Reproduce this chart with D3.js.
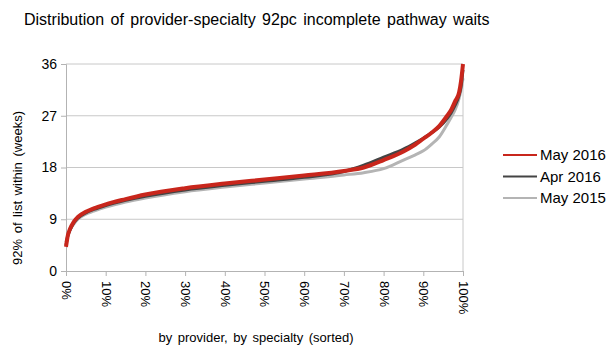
<!DOCTYPE html>
<html>
<head>
<meta charset="utf-8">
<script src="https://cdn.jsdelivr.net/npm/d3@7"></script>
<style>
  body { margin: 0; background: #fff; }
  text { font-family: "Liberation Sans", Arial, sans-serif; fill: #000; }
</style>
</head>
<body>
<script>
// share of provider-specialties (sorted), percent
var pct = [0, 0.5, 1, 2, 3, 5, 7, 10, 15, 20, 30, 40, 50, 60, 70, 75, 80, 85, 88, 90, 92, 94, 96, 97, 98, 99, 99.5, 100];

var may2016 = [4.2, 6.3, 7.3, 8.6, 9.4, 10.3, 10.9, 11.6, 12.5, 13.3, 14.4, 15.2, 15.9, 16.6, 17.4, 18.0, 19.3, 20.8, 22.0, 23.0, 24.0, 25.2, 27.0, 28.0, 29.5, 31.0, 33.0, 36.0];
var apr2016 = [4.5, 6.2, 7.1, 8.4, 9.2, 10.1, 10.7, 11.4, 12.3, 13.0, 14.1, 14.9, 15.6, 16.3, 17.3, 18.4, 19.8, 21.2, 22.3, 23.1, 24.0, 25.0, 26.5, 27.5, 28.8, 30.5, 32.0, 35.0];
var may2015 = [5.0, 6.3, 7.1, 8.2, 9.0, 9.9, 10.4, 11.1, 12.0, 12.7, 13.8, 14.6, 15.3, 16.0, 16.7, 17.1, 17.8, 19.3, 20.2, 20.9, 22.0, 23.3, 25.5, 26.7, 28.0, 30.0, 31.5, 33.5];

var seriesNames = ["May 2016", "Apr 2016", "May 2015"];
var yTicks = [0, 9, 18, 27, 36];
var xTicks = [0, 10, 20, 30, 40, 50, 60, 70, 80, 90, 100];

var width = 613, height = 352;
var margin = {top: 64, right: 150, bottom: 81, left: 66},
    pw = width - margin.left - margin.right,
    ph = height - margin.top - margin.bottom;

var svg = d3.select("body").append("svg")
    .attr("width", width)
    .attr("height", height);

var g = svg.append("g")
    .attr("transform", "translate(" + margin.left + "," + margin.top + ")");

var x = d3.scaleLinear().domain([0, 100]).range([0, 397]);
var y = d3.scaleLinear().domain([0, 36]).range([ph, 0]);

// gridlines
g.selectAll(".grid")
  .data(yTicks.slice(1))
  .enter().append("line")
    .attr("x1", 0).attr("x2", x(100))
    .attr("y1", function(d) { return y(d); })
    .attr("y2", function(d) { return y(d); })
    .attr("stroke", "#c8c8c8").attr("stroke-width", 1);

// right border
g.append("line")
  .attr("x1", x(100)).attr("x2", x(100))
  .attr("y1", 0).attr("y2", ph)
  .attr("stroke", "#c8c8c8");

// x axis
var xAxis = g.append("g")
  .attr("transform", "translate(0," + ph + ")")
  .call(d3.axisBottom(x).tickValues(xTicks).tickSize(5).tickFormat(function(d) { return d + "%"; }));
xAxis.selectAll("text")
  .attr("transform", "rotate(90)")
  .attr("x", 10).attr("y", 0).attr("dy", "0.35em")
  .style("text-anchor", "start")
  .style("font-size", "13px")
  .style("font-family", "Liberation Sans, Arial, sans-serif");

// y axis
var yAxis = g.append("g")
  .call(d3.axisLeft(y).tickValues(yTicks).tickSize(5).tickPadding(4));
yAxis.selectAll("text")
  .style("font-size", "14px")
  .style("font-family", "Liberation Sans, Arial, sans-serif");

[xAxis, yAxis].forEach(function(a) {
  a.select(".domain").attr("stroke", "#b3b3b3");
  a.selectAll(".tick line").attr("stroke", "#b3b3b3");
});

// lines
var all = [
  {name: "May 2015", vals: may2015, color: "#b4b4b4", w: 3},
  {name: "Apr 2016", vals: apr2016, color: "#444444", w: 3},
  {name: "May 2016", vals: may2016, color: "#c8261c", w: 4}
];

var line = d3.line()
  .curve(d3.curveMonotoneX)
  .x(function(d) { return x(d[0]); })
  .y(function(d) { return y(d[1]); });

all.forEach(function(s) {
  g.append("path")
    .datum(d3.zip(pct, s.vals))
    .attr("fill", "none")
    .attr("stroke", s.color)
    .attr("stroke-width", s.w)
    .attr("stroke-linejoin", "round")
    .attr("d", line);
});

// legend
var legColors = {"May 2016": "#c8261c", "Apr 2016": "#444444", "May 2015": "#b4b4b4"};
var leg = svg.append("g").attr("transform", "translate(503,155)");
seriesNames.forEach(function(n, i) {
  leg.append("line")
    .attr("x1", 0).attr("x2", 34)
    .attr("y1", i * 21.5).attr("y2", i * 21.5)
    .attr("stroke", legColors[n]).attr("stroke-width", 2);
  leg.append("text")
    .attr("x", 37).attr("y", i * 21.5).attr("dy", "0.35em")
    .style("font-size", "15px")
    .text(n);
});

// title
svg.append("text")
  .attr("x", 24).attr("y", 25)
  .style("font-size", "16px")
  .style("word-spacing", "2px")
  .text("Distribution of provider-specialty 92pc incomplete pathway waits");

// y title
svg.append("text")
  .attr("transform", "translate(22,188) rotate(-90)")
  .style("text-anchor", "middle")
  .style("font-size", "13px")
  .style("word-spacing", "2px")
  .text("92% of list within (weeks)");

// x title
svg.append("text")
  .attr("x", 256).attr("y", 342)
  .style("text-anchor", "middle")
  .style("font-size", "13px")
  .style("word-spacing", "2px")
  .text("by provider, by specialty (sorted)");
</script>
</body>
</html>
